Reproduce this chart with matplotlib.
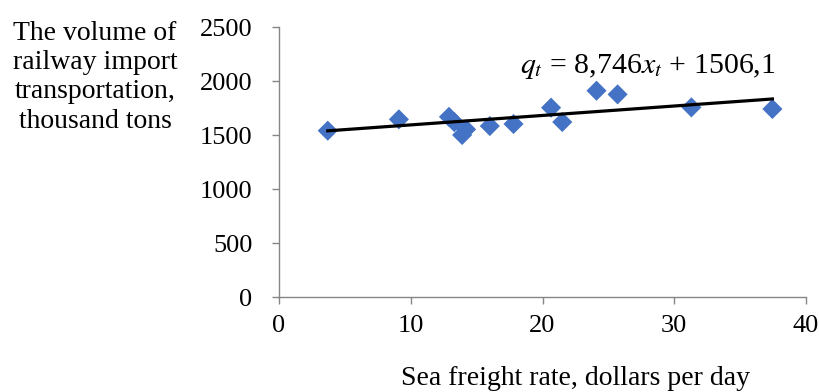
import numpy as np
import matplotlib
matplotlib.use('Agg')
from matplotlib import pyplot as plt

# sea freight rate (dollars per day) vs railway import volume (thousand tons)
freight_rate = [3.7, 9.1, 12.9, 13.3, 13.9, 14.2, 16.0, 17.8, 20.65, 21.5, 24.1, 25.7, 31.3, 37.45]
import_volume = [1540, 1645, 1668, 1620, 1500, 1552, 1583, 1602, 1753, 1620, 1910, 1876, 1756, 1741]

# trend line coefficients
slope = 8.746
intercept = 1506.1

x_ticks = [0, 10, 20, 30, 40]
y_ticks = [0, 500, 1000, 1500, 2000, 2500]

plt.rcParams['font.family'] = ['Liberation Serif', 'DejaVu Serif']
plt.rcParams['mathtext.fontset'] = 'stix'

axis_color = '#868686'
marker_color = '#4472C4'

fig = plt.figure(figsize=(8.2, 3.92), dpi=100)
ax = fig.add_axes([279 / 820, 95 / 392, 527 / 820, 270 / 392])

ax.scatter(freight_rate, import_volume, marker='D', s=105, color=marker_color,
           edgecolors='none', zorder=3, clip_on=False)

x_line = np.array([min(freight_rate), max(freight_rate)])
ax.plot(x_line, slope * x_line + intercept, color='black', linewidth=2.3, zorder=4)

ax.set_xlim(0, 40)
ax.set_ylim(0, 2500)
ax.set_xticks(x_ticks)
ax.set_yticks(y_ticks)

for side in ['top', 'right']:
    ax.spines[side].set_visible(False)
for side in ['left', 'bottom']:
    ax.spines[side].set_color(axis_color)
    ax.spines[side].set_linewidth(1.0)

ax.tick_params(axis='both', direction='out', length=5, width=1.0, color=axis_color,
               labelsize=19, labelcolor='black')
ax.tick_params(axis='x', pad=8)
ax.tick_params(axis='y', pad=14)

ax.text(28.0, 2074, r'$q_t$ = 8,746$x_t$ + 1506,1', fontsize=21.5, ha='center', va='baseline')

fig.text(95 / 820, 1 - 21 / 392,
         'The volume of\nrailway import\ntransportation,\nthousand tons',
         fontsize=20, ha='center', va='top', linespacing=1.22)

fig.text(576 / 820, 1 - 385 / 392, 'Sea freight rate, dollars per day',
         fontsize=20, ha='center', va='baseline')

fig.savefig('out.png', dpi=100)
